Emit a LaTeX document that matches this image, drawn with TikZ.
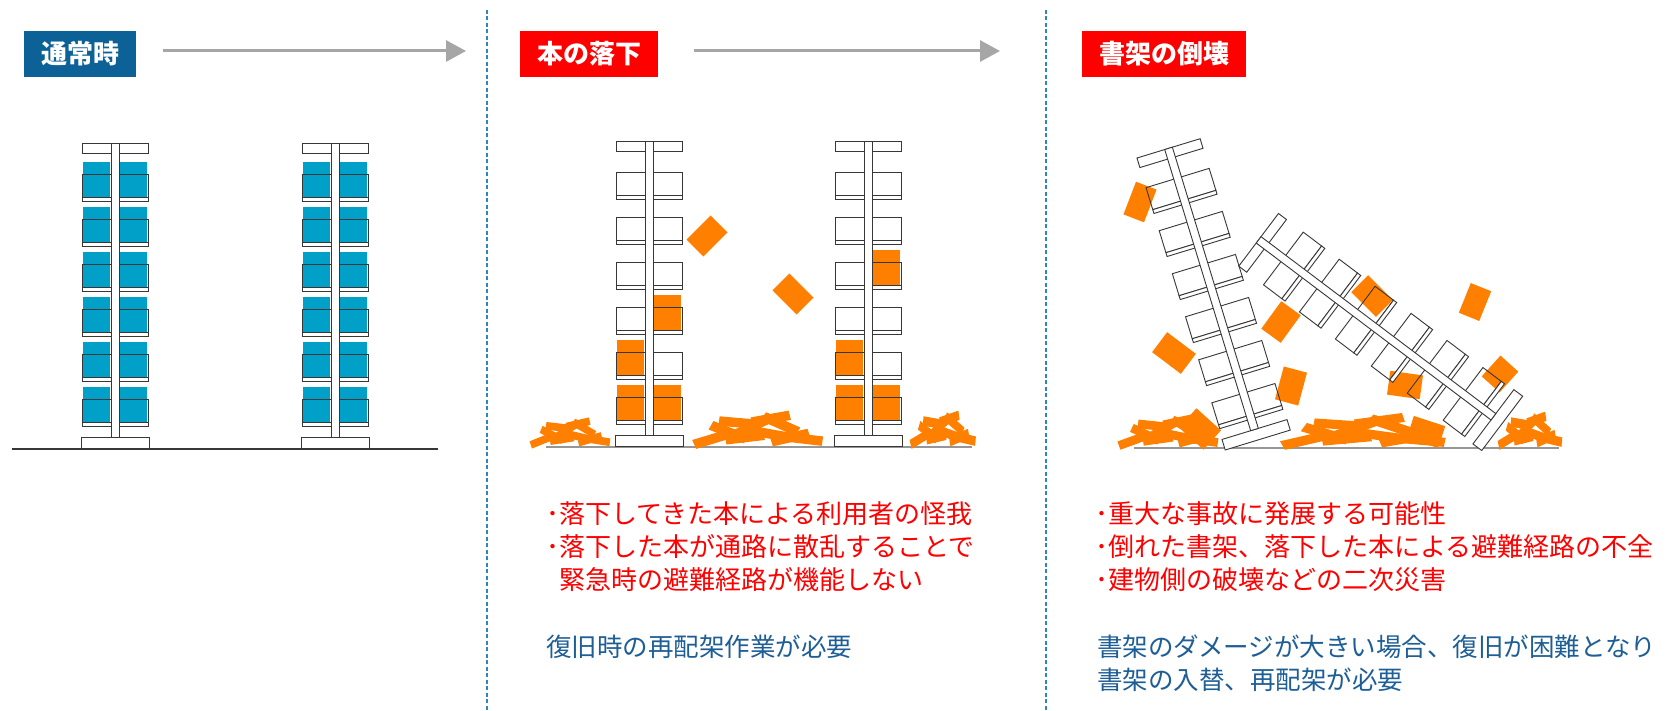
\documentclass[tikz,border=0pt]{standalone}
\usepackage{fontspec}
\newfontfamily\jp{Noto Sans CJK JP}
\usetikzlibrary{arrows.meta}

\definecolor{titleblue}{RGB}{12,97,150}
\definecolor{alertred}{RGB}{255,0,0}
\definecolor{noteblue}{RGB}{30,94,150}
\definecolor{bookblue}{RGB}{0,160,200}
\definecolor{bookorange}{RGB}{255,128,0}
\definecolor{flowgray}{RGB}{166,166,166}
\definecolor{divblue}{RGB}{46,134,193}
\definecolor{framegray}{RGB}{55,55,55}
\definecolor{groundgray}{RGB}{150,150,150}

\tikzset{
	shelfline/.style={draw=framegray,line width=0.9pt},
	% one double-sided shelf, origin at the middle of its foot
	pics/shelf/.style={code={
		\foreach \i in {0,...,5}{
			\draw[shelfline] (-33,{-275+45*\i}) rectangle (33,{-252+45*\i});
			\draw[shelfline,fill=white] (-33,{-252+45*\i}) rectangle (33,{-248+45*\i});
		}
		\draw[shelfline,fill=white] (-33,-306) rectangle (33,-296);
		\draw[shelfline,fill=white] (-34,-12) rectangle (34,-1);
		\draw[shelfline,fill=white] (-4,-306) rectangle (4,-12);
	}},
	% books standing in the compartments: side/level
	pics/books/.style 2 args={code={
		\foreach \s/\i in {#2}
			\fill[#1] ({\s*18.5-13.5},{-287+45*\i}) rectangle ({\s*18.5+13.5},{-252+45*\i});
	}},
	% heap of books lying on the floor
	pics/debris/.style={code={
		\foreach \cx/\cy/\a in {12/-6/20,22/-11/-25,32/-7/8,38/-16/30,46/-10/-12,54/-17/-28,60/-7/15,68/-6/-8,28/-18/-6,48/-21/12}
			\fill[bookorange,rotate around={\a:(\cx,\cy)}] (\cx-12,\cy-3.5) rectangle (\cx+12,\cy+3.5);
	}},
}

\begin{document}
\begin{tikzpicture}[x=1pt,y=-1pt,
		headbox/.style={fill=#1,text=white,font=\jp\bfseries\fontsize{26}{26}\selectfont,
			minimum height=46pt,inner xsep=17pt,inner ysep=0pt,anchor=west},
		flow/.style={draw=flowgray,line width=3pt,-{Triangle[length=20pt,width=21pt]}},
		divider/.style={draw=divblue,line width=1.2pt,dash pattern=on 4pt off 2.5pt},
		groundline/.style={draw=#1,line width=1.5pt},
		redtext/.style={text=alertred,font=\jp\fontsize{26}{33}\selectfont,anchor=base west,inner sep=0pt},
		bluetext/.style={redtext,text=noteblue,font=\jp\fontsize{25.5}{33}\selectfont}]
	\useasboundingbox (0,0) rectangle (1671,711);
	\fill[white] (0,0) rectangle (1671,711);

	\node[headbox=titleblue] (t1) at (24,54) {通常時};
	\node[headbox=alertred] (t2) at (520,54) {本の落下};
	\node[headbox=alertred] (t3) at (1082,54) {書架の倒壊};

	\coordinate (a1e) at (466,51);
	\coordinate (a2e) at (1000,51);
	\draw[flow] ([xshift=27pt,yshift=3pt]t1.east) -- (a1e);
	\draw[flow] ([xshift=36pt,yshift=3pt]t2.east) -- (a2e);

	\draw[divider] (487,10) -- (487,711);
	\draw[divider] (1046,10) -- (1046,711);

	% normal state
	\draw[groundline=framegray] (12,449) -- (438,449);
	\pic at (115,449) {books={bookblue}{-1/0,1/0,-1/1,1/1,-1/2,1/2,-1/3,1/3,-1/4,1/4,-1/5,1/5}};
	\pic at (115,449) {shelf};
	\pic at (335,449) {books={bookblue}{-1/0,1/0,-1/1,1/1,-1/2,1/2,-1/3,1/3,-1/4,1/4,-1/5,1/5}};
	\pic at (335,449) {shelf};

	% books falling down
	\draw[groundline=groundgray] (546,447) -- (972,447);
	\pic at (649,447) {books={bookorange}{1/3,-1/4,-1/5,1/5}};
	\pic at (649,447) {shelf};
	\pic at (868,447) {books={bookorange}{1/2,-1/4,-1/5,1/5}};
	\pic at (868,447) {shelf};
	\foreach \cx/\cy/\a/\w/\h in {707/236/-45/24/34,793/294/45/24/34}
		\fill[bookorange,rotate around={\a:(\cx,\cy)}] (\cx-\w/2,\cy-\h/2) rectangle (\cx+\w/2,\cy+\h/2);
	\pic[yscale=1.1] at (530,447) {debris};
	\pic[xscale=1.62,yscale=1.35] at (693,447) {debris};
	\pic[xscale=0.82,yscale=1.35] at (910,447) {debris};

	% shelves knocked over
	\draw[groundline=groundgray] (1134,448) -- (1559,448);
	\foreach \cx/\cy/\a/\w/\h in {1140/202/-21/22/35,1174/353/53/25/36,1281/322/-36/24/34,1291/386/-15/24/34,
			1372/296/45/24/35,1475/302/-22/22/32,1405/385/-8/33/24,1500/374/-42/24/28,1426/432/-18/33/23,1200/429/48/26/33}
		\fill[bookorange,rotate around={\a:(\cx,\cy)}] (\cx-\w/2,\cy-\h/2) rectangle (\cx+\w/2,\cy+\h/2);
	\pic[rotate=17] at (1258,441) {shelf};
	\pic[rotate=53] at (1503,424) {shelf};
	\pic[xscale=1.25,yscale=1.25] at (1118,448) {debris};
	\pic[xscale=2.05,yscale=1.3] at (1281,448) {debris};
	\pic[xscale=0.8,yscale=1.35] at (1498,448) {debris};

	\node[redtext] (r1) at (546,523) {･落下してきた本による利用者の怪我};
	\node[redtext] (r2) at (546,556) {･落下した本が通路に散乱することで};
	\node[redtext] (r3) at (546,589) {\hphantom{･}緊急時の避難経路が機能しない};
	\node[bluetext] (b1) at (546,656) {復旧時の再配架作業が必要};

	\node[redtext] (r4) at (1095,523) {･重大な事故に発展する可能性};
	\node[redtext] (r5) at (1095,556) {･倒れた書架、落下した本による避難経路の不全};
	\node[redtext] (r6) at (1095,589) {･建物側の破壊などの二次災害};
	\node[bluetext] (b2) at (1097,656) {書架のダメージが大きい場合、復旧が困難となり};
	\node[bluetext] (b3) at (1097,689) {書架の入替、再配架が必要};
\end{tikzpicture}
\end{document}
